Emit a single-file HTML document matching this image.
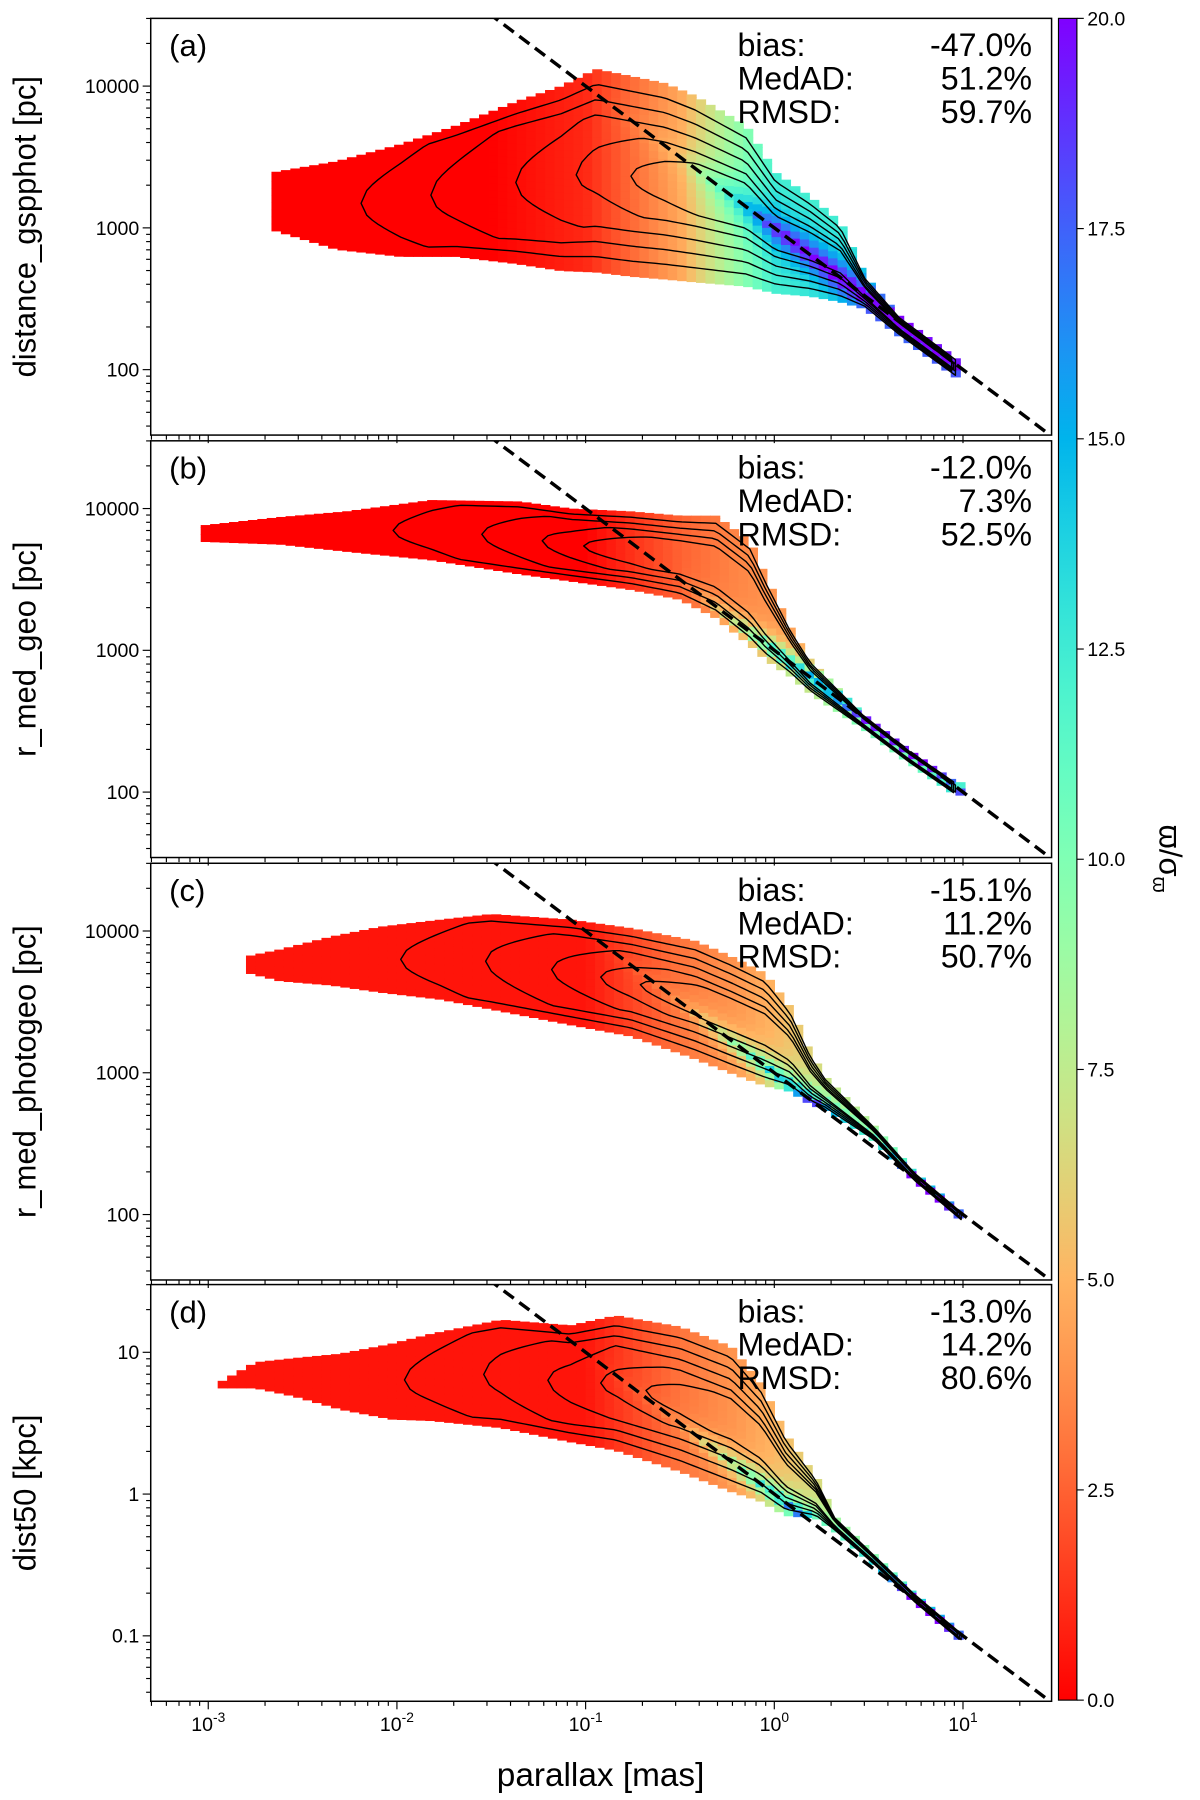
<!DOCTYPE html>
<html><head><meta charset="utf-8"><style>
html,body{margin:0;padding:0;background:#fff}
svg{display:block;font-family:"Liberation Sans",sans-serif}
</style></head><body>
<svg id="fig" width="1200" height="1800" viewBox="0 0 1043 1568" preserveAspectRatio="none" xmlns="http://www.w3.org/2000/svg">
<defs><linearGradient id="cbg" x1="0" y1="1" x2="0" y2="0"></linearGradient></defs>
<g id="panels"></g>
<g id="cbar"></g>
<text x="522" y="1556" font-size="29" text-anchor="middle">parallax [mas]</text>
</svg>
<script>
// ---- data ----
const panelLabels = ["(a)","(b)","(c)","(d)"];
const yTitles = ["distance_gspphot [pc]","r_med_geo [pc]","r_med_photogeo [pc]","dist50 [kpc]"];
const statNames = ["bias:","MedAD:","RMSD:"];
const statVals = [["-47.0%","51.2%","59.7%"],["-12.0%","7.3%","52.5%"],["-15.1%","11.2%","50.7%"],["-13.0%","14.2%","80.6%"]];
const yTickLabels = [["100","1000","10000"],["100","1000","10000"],["100","1000","10000"],["0.1","1","10"]];
const yTickLogs = [2,3,4];
const xTickExps = [-3,-2,-1,0,1];
const cbTicks = [0,2.5,5,7.5,10,12.5,15,17.5,20];
// density envelope per panel: log10 parallax, upper/lower log10 distance [pc]
const envP = [
 [-2.665,-2.32,-1.98,-1.69,-1.37,-1.13,-0.945,-0.76,-0.58,-0.42,-0.15,0.006,0.19,0.35,0.48,0.66,0.96],
 [-3.04,-2.62,-2.27,-1.82,-1.35,-1.08,-0.76,-0.5,-0.31,-0.13,-0.05,0.085,0.19,0.47,0.71,0.96],
 [-2.80,-2.62,-2.35,-2.09,-1.77,-1.50,-1.08,-0.76,-0.42,-0.23,-0.05,0.085,0.19,0.27,0.53,0.74,0.99],
 [-2.95,-2.75,-2.54,-2.30,-2.03,-1.82,-1.45,-1.08,-0.84,-0.50,-0.23,-0.07,0.06,0.22,0.32,0.53,0.74,0.99]];
const envHi = [
 [3.39,3.47,3.59,3.72,3.89,4.00,4.12,4.07,4.02,3.93,3.72,3.39,3.22,3.04,2.66,2.38,2.08],
 [3.88,3.94,3.98,4.06,4.05,4.00,3.98,3.95,3.95,3.77,3.53,3.16,2.93,2.55,2.30,2.07],
 [3.82,3.87,3.96,4.03,4.08,4.12,4.08,4.02,3.93,3.82,3.70,3.46,3.14,2.97,2.62,2.30,2.02],
 [3.78,3.93,3.96,3.99,4.06,4.13,4.23,4.19,4.26,4.18,4.04,3.78,3.42,3.12,2.84,2.57,2.30,2.02]];
const envLo = [
 [2.99,2.85,2.80,2.80,2.75,2.70,2.69,2.66,2.64,2.62,2.59,2.54,2.52,2.48,2.43,2.24,1.95],
 [3.77,3.75,3.70,3.64,3.54,3.49,3.43,3.36,3.23,3.04,2.94,2.82,2.70,2.45,2.21,1.98],
 [3.71,3.65,3.62,3.57,3.52,3.45,3.34,3.26,3.10,3.00,2.91,2.87,2.78,2.74,2.52,2.24,1.96],
 [3.75,3.75,3.69,3.60,3.53,3.52,3.47,3.37,3.31,3.16,3.02,2.95,2.85,2.83,2.74,2.50,2.24,1.96]];
// colour model: base value vs log parallax, plus a peak right on the 1/parallax line
const colP = [[-1.5,-1.0,-0.5,-0.2,0.0,0.3,1.0],[-1.0,-0.5,-0.2,0.0,0.3,1.0],[-1.0,-0.5,-0.2,0.0,0.3,1.0],[-1.0,-0.5,-0.2,0.0,0.3,1.0]];
const baseV = [[0,1,4.5,9,12,12,12],[0,2.5,3.5,4,5,5],[0.5,3,4,5,7,7],[0.5,3,4,5,7,7]];
const peakV = [[0,0,1,5,8,10,10],[0,0,5,12,16,16],[0,1,6,10,16,16],[0,1,6,10,16,16]];
const peakWidth = [0.12,0.05,0.06,0.06];
// contour start (log parallax) and vertical shrink per level
const ctStart = [[-2.19,-1.82,-1.37,-1.05,-0.76],[-2.02,-1.55,-1.23,-1.01],[-1.98,-1.53,-1.18,-0.92,-0.71],[-1.96,-1.54,-1.20,-0.92,-0.68]];
const ctShrink = [0.85,0.7,0.55,0.4,0.28];
// ---- geometry ----
const X0=131,X1=914,PT=[16,384,752,1119],PH=363;
const xs=lp=>673+164*lp;
const ys=(i,ld)=>PT[i]+59+123.5*(4-ld);
const NS="http://www.w3.org/2000/svg";
function mk(t,a,p){const e=document.createElementNS(NS,t);for(const k in a)e.setAttribute(k,a[k]);(p||document.getElementById('panels')).appendChild(e);return e;}
function rainbow(v){let x=1-Math.max(0,Math.min(20,v))/20;let r=Math.min(1,Math.abs(2*x-0.5)),g=Math.sin(Math.PI*x),b=Math.cos(Math.PI*x/2);return `rgb(${Math.round(r*255)},${Math.round(g*255)},${Math.round(b*255)})`;}
function interp(xa,ya,x){if(x<=xa[0])return ya[0];for(let k=1;k<xa.length;k++)if(x<=xa[k]){const t=(x-xa[k-1])/(xa[k]-xa[k-1]);return ya[k-1]+t*(ya[k]-ya[k-1]);}return ya[ya.length-1];}
const root=document.getElementById('panels');
for(let i=0;i<4;i++){
 const g=mk('g',{},root);
 
 
 const cp=mk('clipPath',{id:'clip'+i},g);mk('rect',{x:X0,y:PT[i],width:X1-X0,height:PH},cp);
 const hm=mk('g',{'clip-path':`url(#clip${i})`},g);
 
 
 const P=envP[i],H=envHi[i],L=envLo[i];const st=0.05;
 for(let lp=P[0];lp<=P[P.length-1];lp+=st){
  const mp=lp+st/2;
  const hi=interp(P,H,mp),lo=interp(P,L,mp);
  for(let ld=lo;ld<hi;ld+=st){
   const top=Math.min(hi,ld+st);
   const dev=(ld+st/2)-(3-mp);
   const v=interp(colP[i],baseV[i],mp)+interp(colP[i],peakV[i],mp)*Math.exp(-Math.abs(dev)/peakWidth[i]);
   const r=mk('rect',{x:xs(lp),y:ys(i,top),width:164*st+0.6,height:123.5*(top-ld)+0.6,fill:rainbow(v)},hm);
   
   
  }
 }
 const Pend=P[P.length-1];
 ctStart[i].forEach((s0,j)=>{
  const f=ctShrink[j];let up=[],dn=[];
  for(let lp=s0;lp<=Pend+1e-6;lp+=0.03){
   const hi=interp(P,H,lp),lo=interp(P,L,lp);const c=(hi+lo)/2;
   const tp=Math.sqrt(Math.min(1,(lp-s0)/0.35));
   up.push([xs(lp),ys(i,c+f*tp*(hi-c))]);dn.push([xs(lp),ys(i,c+f*tp*(lo-c))]);
  }
  const pts=up.concat(dn.reverse()).map(p=>p.join(',')).join(' ');
  const c=mk('polygon',{points:pts,fill:'none',stroke:'#000','stroke-width':1.2,'stroke-linejoin':'round'},hm);
  
  
 });
 const dl=mk('line',{x1:xs(-1.6),y1:ys(i,4.6),x2:xs(1.6),y2:ys(i,1.4),stroke:'#000','stroke-width':3,'stroke-dasharray':'11,6'},hm);
 
 
 const fr=mk('rect',{x:X0,y:PT[i],width:X1-X0,height:PH,fill:'none',stroke:'#000','stroke-width':1.3},g);
 
 
 for(let e=-4;e<=1;e++)for(let m=1;m<10;m++){const x=xs(e+Math.log10(m));if(x<X0||x>X1)continue;const len=m==1?7:4;
  const t=mk('line',{x1:x,x2:x,y1:PT[i]+PH,y2:PT[i]+PH+len,stroke:'#000','stroke-width':1},g);
  
  }
 for(let e=0;e<=4;e++)for(let m=1;m<10;m++){const y=ys(i,e+Math.log10(m));if(y<PT[i]||y>PT[i]+PH)continue;const len=m==1?7:4;
  const t=mk('line',{x1:X0,x2:X0-len,y1:y,y2:y,stroke:'#000','stroke-width':1},g);
  
  }
 yTickLogs.forEach((lg,k)=>{const t=mk('text',{x:X0-10,y:ys(i,lg)+6,'font-size':17,'text-anchor':'end'},g);t.textContent=yTickLabels[i][k];
  
  });
 const yt=mk('text',{x:0,y:0,'font-size':27,'text-anchor':'middle',transform:`translate(31,${PT[i]+PH/2}) rotate(-90)`},g);yt.textContent=yTitles[i];
 
 
 const pl=mk('text',{x:147,y:PT[i]+33,'font-size':27},g);pl.textContent=panelLabels[i];
 
 
 statNames.forEach((s,k)=>{
  const a=mk('text',{x:641,y:PT[i]+33+29*k,'font-size':28},g);a.textContent=s;
  
  
  const b=mk('text',{x:897,y:PT[i]+33+29*k,'font-size':28,'text-anchor':'end'},g);b.textContent=statVals[i][k];
  
  
 });
}
xTickExps.forEach(e=>{const t=mk('text',{x:xs(e),y:1508,'font-size':17,'text-anchor':'middle'},root);
 t.innerHTML=`10<tspan dy="-8" font-size="12">${e}</tspan>`;
 
 });
const cb=document.getElementById('cbar'),gr=document.getElementById('cbg');
for(let k=0;k<=20;k++){mk('stop',{offset:(k/20),'stop-color':rainbow(k)},gr);}
const cr=mk('rect',{x:920,y:16,width:16,height:1465,fill:'url(#cbg)',stroke:'#000','stroke-width':1},cb);


const cy=v=>1481-v/20*1465;
cbTicks.forEach(v=>{const l=mk('line',{x1:936,x2:942,y1:cy(v),y2:cy(v),stroke:'#000'},cb);
 
 
 const t=mk('text',{x:945,y:cy(v)+6,'font-size':17},cb);t.textContent=v.toFixed(1);
 
 });
const ct=mk('text',{x:0,y:0,'font-size':27,'text-anchor':'middle',transform:'translate(1008,748) rotate(90)'},cb);
ct.innerHTML='ϖ/σ<tspan dy="6" font-size="18">ϖ</tspan>';


</script>
</body></html>
